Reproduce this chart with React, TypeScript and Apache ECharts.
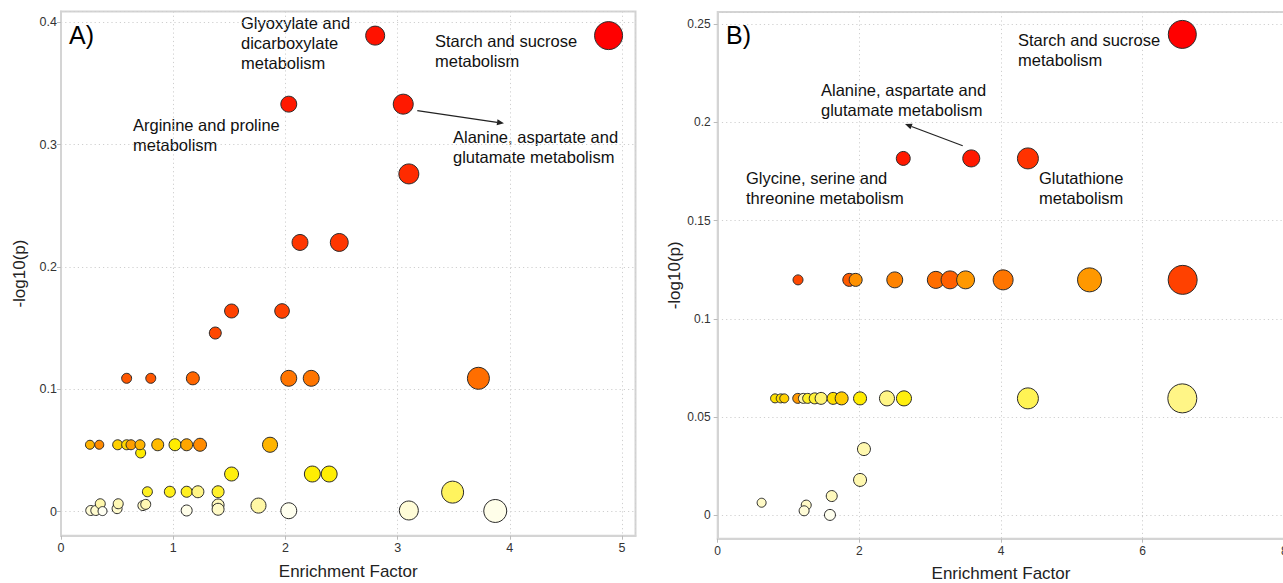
import React, { useEffect, useRef } from "react";
import * as echarts from "echarts";

// Panel A: enrichment factor, -log10(p), pathway impact (0-1), colour score (0-1)
const aEnrich = [
  0.265, 0.31, 0.35, 0.37, 0.5, 0.51, 0.73, 0.755, 1.12, 1.4, 1.4, 1.76, 2.03, 3.1, 3.87,
  0.77, 0.97, 1.12, 1.22, 1.4, 3.49,
  1.52, 2.24, 2.39,
  0.71, 0.258, 0.341, 0.505, 0.585, 0.624, 0.704, 0.862, 1.016, 1.12, 1.239, 1.863,
  0.585, 0.8, 1.175, 2.03, 2.23, 3.72,
  1.375, 1.52, 1.97, 2.13, 2.48, 3.1, 2.03, 3.05, 2.8, 4.88,
];
const aLogP = [
  0.001, 0.001, 0.0065, 0.0005, 0.0025, 0.0065, 0.005, 0.006, 0.001, 0.0055, 0.002, 0.005, 0.0008, 0.001, 0.0006,
  0.0163, 0.0163, 0.0163, 0.0163, 0.0163, 0.016,
  0.0308, 0.0308, 0.0308,
  0.048, 0.0547, 0.0547, 0.0547, 0.0547, 0.0547, 0.0547, 0.0547, 0.0547, 0.0547, 0.0547, 0.0547,
  0.109, 0.109, 0.109, 0.109, 0.109, 0.109,
  0.146, 0.164, 0.164, 0.22, 0.22, 0.276, 0.333, 0.333, 0.389, 0.389,
];
const aImpact = [
  0.09, 0.09, 0.09, 0.045, 0.09, 0.09, 0.09, 0.09, 0.136, 0.18, 0.18, 0.32, 0.36, 0.5, 0.68,
  0.09, 0.136, 0.136, 0.18, 0.18, 0.636,
  0.27, 0.36, 0.36,
  0.09, 0.045, 0.045, 0.09, 0.09, 0.09, 0.09, 0.18, 0.18, 0.18, 0.227, 0.32,
  0.09, 0.09, 0.227, 0.36, 0.36, 0.636,
  0.18, 0.27, 0.3, 0.36, 0.45, 0.545, 0.36, 0.545, 0.5, 0.91,
];
const aScore = [
  0.06, 0.08, 0.16, 0.0, 0.08, 0.14, 0.1, 0.14, 0.02, 0.12, 0.1, 0.17, 0.01, 0.06, 0.02,
  0.3, 0.31, 0.3, 0.2, 0.29, 0.24,
  0.32, 0.33, 0.33,
  0.34, 0.5, 0.62, 0.42, 0.4, 0.56, 0.5, 0.48, 0.34, 0.54, 0.62, 0.5,
  0.76, 0.76, 0.72, 0.68, 0.68, 0.7,
  0.8, 0.82, 0.82, 0.85, 0.85, 0.88, 0.93, 0.93, 0.95, 1.0,
];

// Panel B
const bEnrich = [
  0.62, 1.25, 1.22, 1.585, 1.61, 2.01, 2.065,
  0.81, 0.89, 0.94, 1.13, 1.21, 1.27, 1.37, 1.46, 1.63, 1.75, 2.01, 2.39, 2.63, 4.38, 6.56,
  1.134, 1.858, 1.948, 2.5, 3.08, 3.28, 3.5, 4.03, 5.25, 6.565,
  2.62, 3.58, 4.38, 6.56,
];
const bLogP = [
  0.0064, 0.0052, 0.0023, 0.0002, 0.0098, 0.018, 0.0337,
  0.0595, 0.0595, 0.0595, 0.0595, 0.0595, 0.0595, 0.0595, 0.0595, 0.0595, 0.0595, 0.0595, 0.0595, 0.0595, 0.0595, 0.0595,
  0.1198, 0.1198, 0.1198, 0.1198, 0.1198, 0.1198, 0.1198, 0.1198, 0.1198, 0.1198,
  0.1816, 0.1816, 0.1816, 0.2447,
];
const bImpact = [
  0.045, 0.09, 0.09, 0.136, 0.136, 0.227, 0.227,
  0.045, 0.045, 0.045, 0.09, 0.09, 0.09, 0.136, 0.18, 0.18, 0.227, 0.227, 0.32, 0.32, 0.59, 0.955,
  0.09, 0.227, 0.227, 0.36, 0.41, 0.45, 0.45, 0.545, 0.727, 0.955,
  0.27, 0.41, 0.59, 0.91,
];
const bScore = [
  0.1, 0.1, 0.06, 0.01, 0.12, 0.15, 0.15,
  0.37, 0.38, 0.42, 0.58, 0.15, 0.3, 0.28, 0.22, 0.38, 0.43, 0.34, 0.2, 0.32, 0.25, 0.2,
  0.8, 0.75, 0.6, 0.64, 0.7, 0.74, 0.58, 0.68, 0.58, 0.82,
  0.93, 0.93, 0.86, 1.0,
];

const FONT = "'Liberation Sans', Arial, sans-serif";

const annotations = [
  { text: "Glyoxylate and\ndicarboxylate\nmetabolism", x: 241, y: 13 },
  { text: "Starch and sucrose\nmetabolism", x: 435, y: 31 },
  { text: "Arginine and proline\nmetabolism", x: 133, y: 115 },
  { text: "Alanine, aspartate and\nglutamate metabolism", x: 453, y: 127 },
  { text: "Starch and sucrose\nmetabolism", x: 1018, y: 29.5 },
  { text: "Alanine, aspartate and\nglutamate metabolism", x: 821, y: 79.5 },
  { text: "Glycine, serine and\nthreonine metabolism", x: 746, y: 167.5 },
  { text: "Glutathione\nmetabolism", x: 1039, y: 167.5 },
];

const arrows = [
  { from: [417.3, 110.7], to: [504, 123.3] },
  { from: [962.7, 145.7], to: [905, 124] },
];

function zip(x: number[], y: number[], s: number[], c: number[]) {
  return x.map((v, i) => [v, y[i], s[i], c[i]]);
}

function arrowGraphics(from: number[], to: number[]) {
  const dx = to[0] - from[0];
  const dy = to[1] - from[1];
  const len = Math.sqrt(dx * dx + dy * dy);
  const ux = dx / len;
  const uy = dy / len;
  const hl = 7;
  const hw = 3;
  const bx = to[0] - ux * hl;
  const by = to[1] - uy * hl;
  return [
    {
      type: "line",
      shape: { x1: from[0], y1: from[1], x2: bx, y2: by },
      style: { stroke: "#222", lineWidth: 1.2 },
    },
    {
      type: "polygon",
      shape: {
        points: [
          [to[0], to[1]],
          [bx - uy * hw, by + ux * hw],
          [bx + uy * hw, by - ux * hw],
        ],
      },
      style: { fill: "#222" },
    },
  ];
}

export default function App() {
  const ref = useRef<HTMLDivElement>(null);
  useEffect(() => {
    if (!ref.current) return;
    const chart = echarts.init(ref.current, null, { renderer: "svg" });

    const axisCommon = () => ({
      axisLine: { show: true, onZero: false, lineStyle: { color: "#d4d4d4", width: 2 } },
      axisTick: { show: true, length: 4, lineStyle: { color: "#bbbbbb" } },
      splitLine: { show: true, lineStyle: { color: "#cfcfcf", type: [1.2, 3], width: 1 } },
      nameTextStyle: { color: "#222", fontSize: 17, fontFamily: FONT },
    });

    const graphics: any[] = [];
    annotations.forEach((a) => {
      graphics.push({
        type: "text",
        x: a.x,
        y: a.y,
        style: {
          text: a.text,
          font: `16.5px ${FONT}`,
          fill: "#111",
          lineHeight: 20,
          textVerticalAlign: "top",
        },
      });
    });
    arrows.forEach((ar) => graphics.push(...arrowGraphics(ar.from, ar.to)));
    graphics.push({
      type: "text",
      x: 69,
      y: 35,
      style: { text: "A)", font: `25px ${FONT}`, fill: "#000", textVerticalAlign: "middle" },
    });
    graphics.push({
      type: "text",
      x: 726,
      y: 35,
      style: { text: "B)", font: `25px ${FONT}`, fill: "#000", textVerticalAlign: "middle" },
    });

    const symbolSize = (v: number[]) => 8 + 22 * v[2];

    chart.setOption({
      animation: false,
      backgroundColor: "#ffffff",
      grid: [
        {
          left: 61, top: 11.5, width: 574.5, height: 524.2, show: true,
          borderColor: "#d4d4d4", borderWidth: 2, containLabel: false, outerBoundsMode: "none",
        },
        {
          left: 717.7, top: 12, width: 566.6, height: 526.7, show: true,
          borderColor: "#d4d4d4", borderWidth: 2, containLabel: false, outerBoundsMode: "none",
        },
      ],
      xAxis: [
        {
          gridIndex: 0,
          type: "value",
          min: 0,
          max: 5.12,
          splitNumber: 5,
          name: "Enrichment Factor",
          nameLocation: "middle",
          nameGap: 27,
          ...axisCommon(),
          axisLabel: { color: "#333", fontSize: 12.5, fontFamily: FONT, showMaxLabel: false, margin: 6 },
        },
        {
          gridIndex: 1,
          type: "value",
          min: 0,
          max: 8,
          splitNumber: 4,
          name: "Enrichment Factor",
          nameLocation: "middle",
          nameGap: 26.5,
          ...axisCommon(),
          axisLabel: { color: "#333", fontSize: 12, fontFamily: FONT, showMaxLabel: true, margin: 6 },
        },
      ],
      yAxis: [
        {
          gridIndex: 0,
          type: "value",
          min: -0.0196,
          max: 0.4087,
          splitNumber: 5,
          name: "-log10(p)",
          nameLocation: "middle",
          nameGap: 33,
          ...axisCommon(),
          axisLabel: { color: "#333", fontSize: 12.5, fontFamily: FONT, showMinLabel: false, showMaxLabel: false, margin: 4 },
        },
        {
          gridIndex: 1,
          type: "value",
          min: -0.0119,
          max: 0.2561,
          splitNumber: 5,
          name: "-log10(p)",
          nameLocation: "middle",
          nameGap: 35,
          ...axisCommon(),
          axisLabel: { color: "#333", fontSize: 12, fontFamily: FONT, showMinLabel: false, showMaxLabel: false, margin: 7 },
        },
      ],
      visualMap: {
        show: false,
        type: "continuous",
        dimension: 3,
        min: 0,
        max: 1,
        seriesIndex: [0, 1],
        inRange: {
          color: ["#fffff2", "#fff7a8", "#ffee00", "#ffb400", "#ff7a00", "#ff3c00", "#ff0000"],
        },
      },
      series: [
        {
          type: "scatter",
          xAxisIndex: 0,
          yAxisIndex: 0,
          data: zip(aEnrich, aLogP, aImpact, aScore),
          symbolSize,
          itemStyle: { borderColor: "#2a2a2a", borderWidth: 1, opacity: 1 },
        },
        {
          type: "scatter",
          xAxisIndex: 1,
          yAxisIndex: 1,
          data: zip(bEnrich, bLogP, bImpact, bScore),
          symbolSize,
          itemStyle: { borderColor: "#2a2a2a", borderWidth: 1, opacity: 1 },
        },
      ],
      graphic: graphics,
    });

    return () => chart.dispose();
  }, []);

  return (
    <div
      ref={ref}
      style={{ position: "fixed", left: 0, top: 0, width: 1283, height: 583, background: "#fff" }}
    />
  );
}
